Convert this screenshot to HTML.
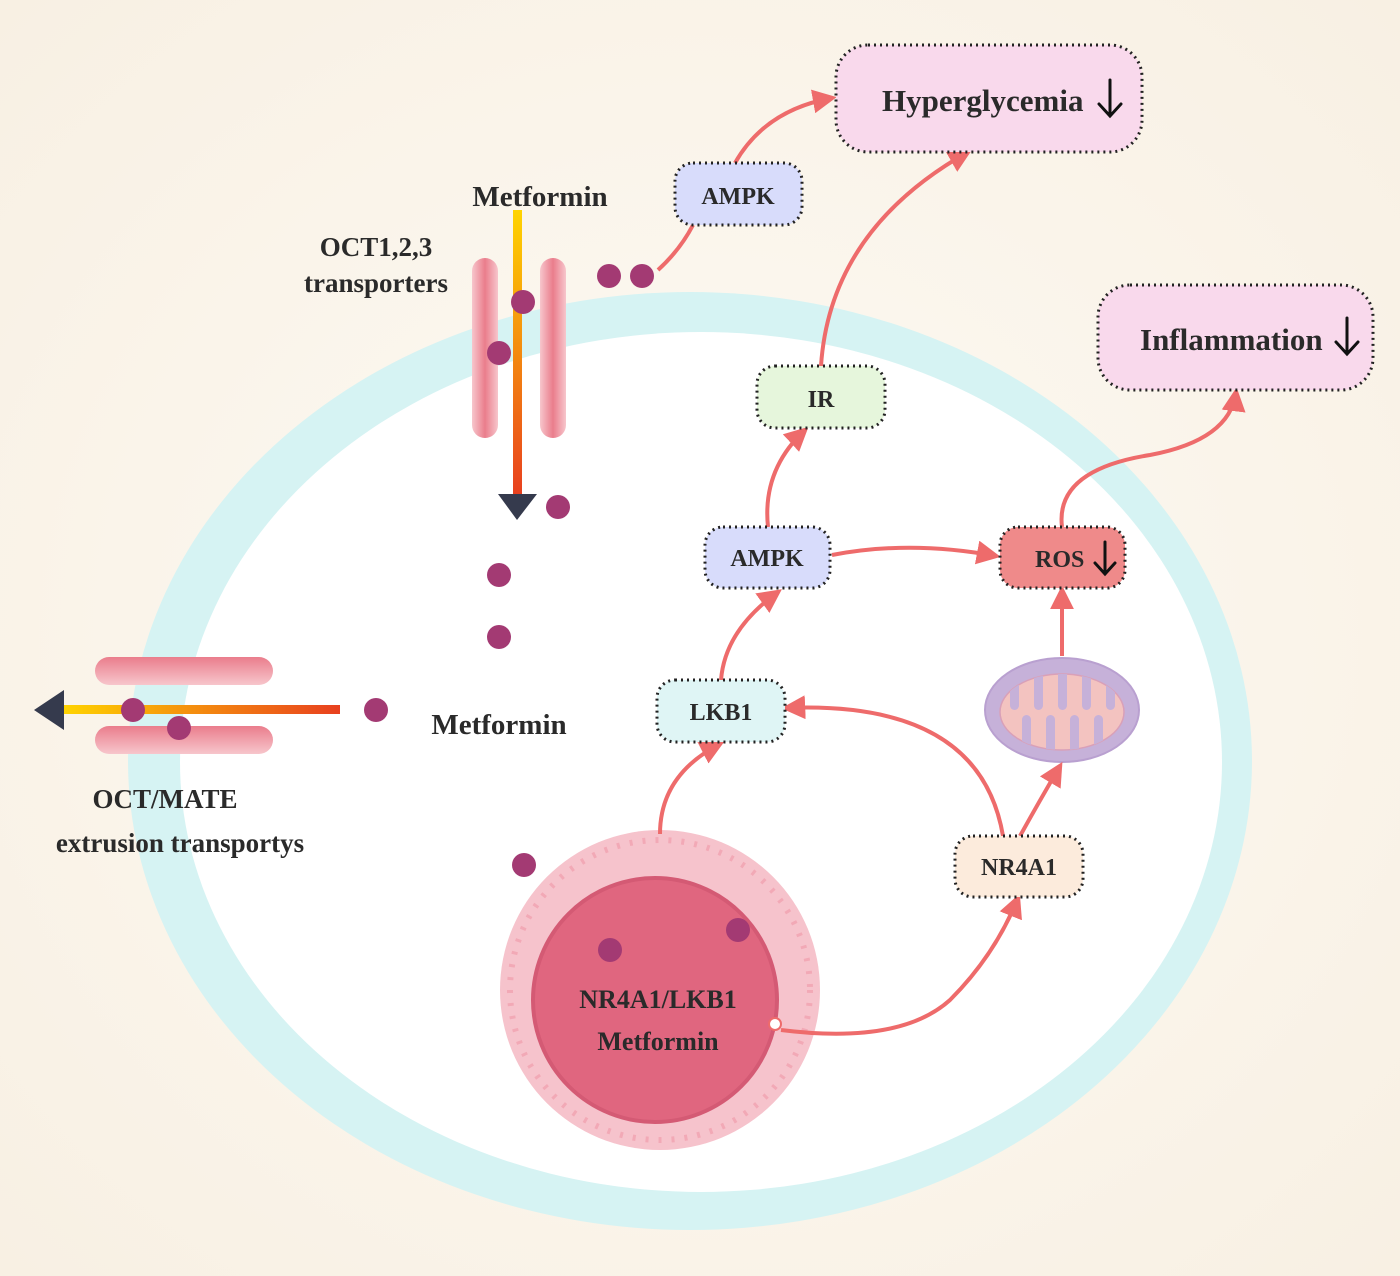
<!DOCTYPE html>
<html><head><meta charset="utf-8"><style>
html,body{margin:0;padding:0;background:#fbf6ee}
svg{display:block}
text{font-family:"Liberation Serif",serif;font-weight:bold;fill:#2a2a2a}
</style></head><body>
<svg width="1400" height="1276" viewBox="0 0 1400 1276" xmlns="http://www.w3.org/2000/svg">
<defs>
<radialGradient id="bg" cx="50%" cy="50%" r="70%"><stop offset="0" stop-color="#fdfaf4"/><stop offset="1" stop-color="#f8f0e3"/></radialGradient>
<marker id="ah" viewBox="0 0 10 10" refX="8" refY="5" markerWidth="6" markerHeight="6" orient="auto"><path d="M0,0L10,5L0,10z" fill="#ee6b6b"/></marker>
<linearGradient id="gv" x1="0" y1="0" x2="0" y2="1"><stop offset="0" stop-color="#ffd400"/><stop offset="1" stop-color="#e8401f"/></linearGradient>
<linearGradient id="gh" x1="0" y1="0" x2="1" y2="0"><stop offset="0" stop-color="#ffd400"/><stop offset="1" stop-color="#e8401f"/></linearGradient>
<linearGradient id="tp" x1="0" y1="0" x2="1" y2="0"><stop offset="0" stop-color="#f7c6cc"/><stop offset="0.5" stop-color="#ea7d8c"/><stop offset="1" stop-color="#f7c6cc"/></linearGradient>
<linearGradient id="tph" x1="0" y1="0" x2="0" y2="1"><stop offset="0" stop-color="#ea7d8c"/><stop offset="1" stop-color="#f7c6cc"/></linearGradient>
<clipPath id="mc"><ellipse cx="1062" cy="712" rx="62" ry="38"/></clipPath>
</defs>
<rect width="1400" height="1276" fill="url(#bg)"/>
<ellipse cx="690" cy="761" rx="562" ry="469" fill="#d6f3f3"/>
<ellipse cx="701" cy="762" rx="521" ry="430" fill="#ffffff"/>

<!-- OCT top -->
<rect x="472" y="258" width="26" height="180" rx="13" fill="url(#tp)"/>
<rect x="540" y="258" width="26" height="180" rx="13" fill="url(#tp)"/>
<rect x="513" y="210" width="9" height="285" fill="url(#gv)"/>
<path d="M498,494L537,494L517,520z" fill="#353a4d"/>
<text x="540" y="206" font-size="29" text-anchor="middle">Metformin</text>
<text x="376" y="256" font-size="27" text-anchor="middle">OCT1,2,3</text>
<text x="376" y="292" font-size="27" text-anchor="middle">transporters</text>

<!-- OCT left -->
<rect x="95" y="657" width="178" height="28" rx="14" fill="url(#tph)"/>
<rect x="95" y="726" width="178" height="28" rx="14" fill="url(#tph)"/>
<rect x="62" y="705" width="278" height="9" fill="url(#gh)"/>
<path d="M34,710L64,690L64,730z" fill="#353a4d"/>
<text x="499" y="734" font-size="29" text-anchor="middle">Metformin</text>
<text x="165" y="808" font-size="27" text-anchor="middle">OCT/MATE</text>
<text x="180" y="852" font-size="27" text-anchor="middle">extrusion transportys</text>

<!-- nucleus -->
<circle cx="660" cy="990" r="160" fill="#f6c3cc"/>
<circle cx="660" cy="990" r="150" fill="none" stroke="#f2a9b6" stroke-width="6" stroke-dasharray="3 10"/>
<circle cx="655" cy="1000" r="122" fill="#e0667f" stroke="#d45a74" stroke-width="4"/>
<text x="658" y="1008" font-size="26" text-anchor="middle">NR4A1/LKB1</text>
<text x="658" y="1050" font-size="26" text-anchor="middle">Metformin</text>

<!-- mitochondria -->
<ellipse cx="1062" cy="710" rx="77" ry="52" fill="#c6b1d9" stroke="#b9a0d0" stroke-width="2"/>
<ellipse cx="1062" cy="712" rx="62" ry="38" fill="#f3c3c0" stroke="#d9a0b8" stroke-width="1.5"/>
<g clip-path="url(#mc)" fill="#c6b1d9">
<rect x="1010" y="660" width="9" height="50" rx="4.5"/>
<rect x="1034" y="660" width="9" height="50" rx="4.5"/>
<rect x="1058" y="660" width="9" height="50" rx="4.5"/>
<rect x="1082" y="660" width="9" height="50" rx="4.5"/>
<rect x="1106" y="660" width="9" height="50" rx="4.5"/>
<rect x="1022" y="715" width="9" height="50" rx="4.5"/>
<rect x="1046" y="715" width="9" height="50" rx="4.5"/>
<rect x="1070" y="715" width="9" height="50" rx="4.5"/>
<rect x="1094" y="715" width="9" height="50" rx="4.5"/>
</g>

<!-- arrows -->
<g fill="none" stroke="#ee6b6b" stroke-width="4" marker-end="url(#ah)">
<path d="M658,270 Q680,250 693,225" marker-end="none"/>
<path d="M735,163 Q765,110 832,98"/>
<path d="M821,366 Q830,230 968,152"/>
<path d="M768,527 Q762,470 805,430"/>
<path d="M832,555 Q910,540 996,556"/>
<path d="M1062,656 L1062,590"/>
<path d="M1062,527 Q1055,470 1150,455 Q1230,440 1236,392"/>
<path d="M721,680 Q725,630 778,592"/>
<path d="M660,834 Q660,775 720,744"/>
<path d="M1003,836 Q980,700 786,708"/>
<path d="M1020,836 Q1040,800 1060,766"/>
<path d="M781,1030 Q900,1045 950,1000 Q995,955 1018,898"/>
</g>
<circle cx="775" cy="1024" r="6" fill="#fff" stroke="#ee6b6b" stroke-width="2"/>

<!-- boxes -->
<g stroke="#222" stroke-width="3" stroke-dasharray="2 4">
<rect x="836" y="45" width="306" height="107" rx="32" fill="#f9d9ec"/>
<rect x="1098" y="285" width="275" height="105" rx="32" fill="#f9d9ec"/>
<rect x="675" y="163" width="127" height="62" rx="18" fill="#d8dcfb"/>
<rect x="757" y="366" width="128" height="62" rx="18" fill="#e6f6dc"/>
<rect x="705" y="527" width="125" height="61" rx="18" fill="#d8dcfb"/>
<rect x="1000" y="527" width="125" height="61" rx="18" fill="#ef8a8a"/>
<rect x="657" y="680" width="128" height="62" rx="18" fill="#dff5f5"/>
<rect x="955" y="836" width="128" height="61" rx="18" fill="#fcebdc"/>
</g>
<text x="882" y="111" font-size="31">Hyperglycemia</text>
<text x="1140" y="350" font-size="31">Inflammation</text>
<text x="738" y="204" font-size="24" text-anchor="middle">AMPK</text>
<text x="821" y="407" font-size="24" text-anchor="middle">IR</text>
<text x="767" y="566" font-size="24" text-anchor="middle">AMPK</text>
<text x="1035" y="567" font-size="24">ROS</text>
<text x="721" y="720" font-size="24" text-anchor="middle">LKB1</text>
<text x="1019" y="875" font-size="24" text-anchor="middle">NR4A1</text>
<g fill="none" stroke="#111" stroke-width="3" stroke-linecap="round">
<path d="M1110,80V116M1099,104L1110,116L1121,104"/>
<path d="M1347,318V354M1336,342L1347,354L1358,342"/>
<path d="M1105,542V574M1095,563L1105,574L1115,563"/>
</g>

<!-- dots -->
<g fill="#a33a73">
<circle cx="609" cy="276" r="12"/><circle cx="642" cy="276" r="12"/>
<circle cx="523" cy="302" r="12"/><circle cx="499" cy="353" r="12"/>
<circle cx="558" cy="507" r="12"/><circle cx="499" cy="575" r="12"/>
<circle cx="499" cy="637" r="12"/><circle cx="376" cy="710" r="12"/>
<circle cx="133" cy="710" r="12"/><circle cx="179" cy="728" r="12"/>
<circle cx="524" cy="865" r="12"/><circle cx="610" cy="950" r="12"/>
<circle cx="738" cy="930" r="12"/>
</g>
</svg>
</body></html>
